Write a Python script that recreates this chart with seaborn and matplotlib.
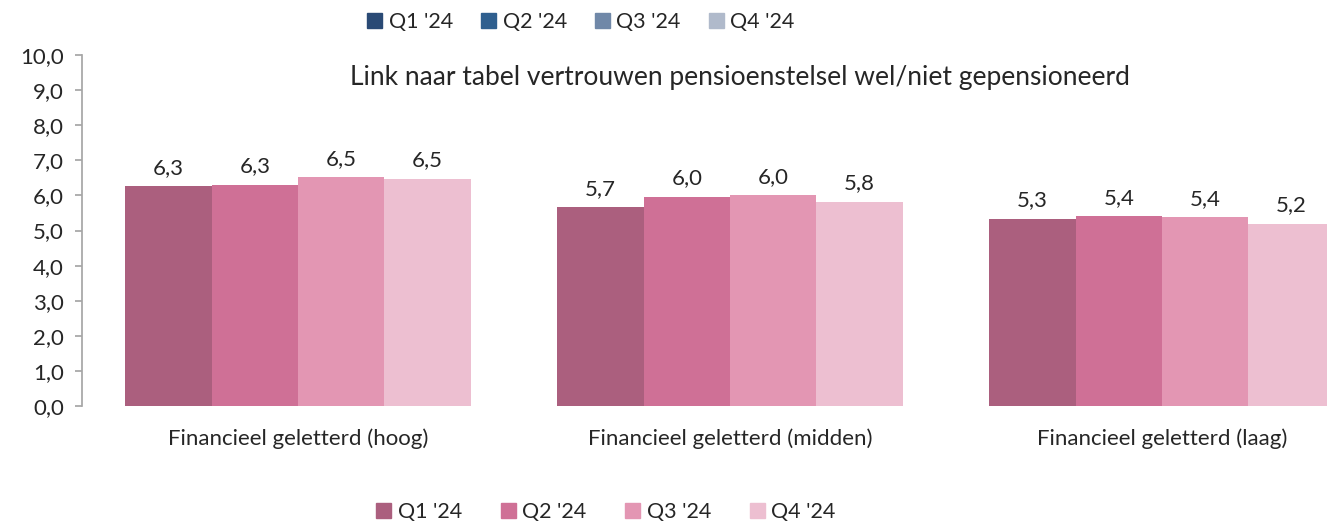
import pandas as pd
import matplotlib.pyplot as plt
from matplotlib.patches import Patch
import seaborn as sns

# data
categories = ["Financieel geletterd (hoog)", "Financieel geletterd (midden)", "Financieel geletterd (laag)"]
quarters = ["Q1 '24", "Q2 '24", "Q3 '24", "Q4 '24"]
q1 = [6.26, 5.66, 5.33]
q2 = [6.31, 5.96, 5.41]
q3 = [6.52, 6.0, 5.38]
q4 = [6.47, 5.82, 5.19]

pink = ["#ab5f7e", "#cf7096", "#e396b3", "#edbfd1"]
blue = ["#2a4a75", "#2f5f8f", "#7088a8", "#b0bacb"]

rows = []
for q, vals in zip(quarters, [q1, q2, q3, q4]):
    for c, v in zip(categories, vals):
        rows.append({"cat": c, "quarter": q, "value": v})
df = pd.DataFrame(rows)

sns.set_theme(style="white")
plt.rcParams["font.family"] = ["Lato", "DejaVu Sans"]

fig = plt.figure(figsize=(13.27, 5.22), dpi=100)
ax = fig.add_axes([82 / 1327, 1 - 406 / 522, 1296 / 1327, 351 / 522])

sns.barplot(data=df, x="cat", y="value", hue="quarter", palette=pink,
            order=categories, hue_order=quarters, width=0.8, gap=0,
            saturation=1, linewidth=0, ax=ax, legend=False)

for cont in ax.containers:
    ax.bar_label(cont, labels=[f"{b.get_height():.1f}".replace(".", ",") for b in cont],
                 padding=6, fontsize=16)

ax.set_xlim(-0.5, 2.5)
ax.set_ylim(0, 10)
ax.set_yticks(range(0, 11))
ax.set_yticklabels([f"{t},0" for t in range(0, 11)], fontsize=16)
ax.tick_params(axis="y", left=True, length=5, color="#a6a6a6", pad=8)
ax.tick_params(axis="x", labelsize=16, pad=10, bottom=False)
ax.set_xlabel("")
ax.set_ylabel("")
for s in ["top", "right", "bottom"]:
    ax.spines[s].set_visible(False)
ax.spines["left"].set_color("#a6a6a6")

fig.text(740 / 1327, 1 - 78 / 522, "Link naar tabel vertrouwen pensioenstelsel wel/niet gepensioneerd",
         ha="center", va="center", fontsize=19)

top_handles = [Patch(color=c, label=q) for c, q in zip(blue, quarters)]
fig.legend(handles=top_handles, loc="center", bbox_to_anchor=(581 / 1327, 1 - 22 / 522),
           ncol=4, frameon=False, fontsize=15.5, handlelength=0.7, handleheight=0.7,
           handletextpad=0.3, columnspacing=1.3)

bot_handles = [Patch(color=c, label=q) for c, q in zip(pink, quarters)]
fig.legend(handles=bot_handles, loc="center", bbox_to_anchor=(606 / 1327, 1 - 512 / 522),
           ncol=4, frameon=False, fontsize=15.5, handlelength=0.7, handleheight=0.7,
           handletextpad=0.3, columnspacing=1.8)

fig.savefig("out.png", dpi=100)
